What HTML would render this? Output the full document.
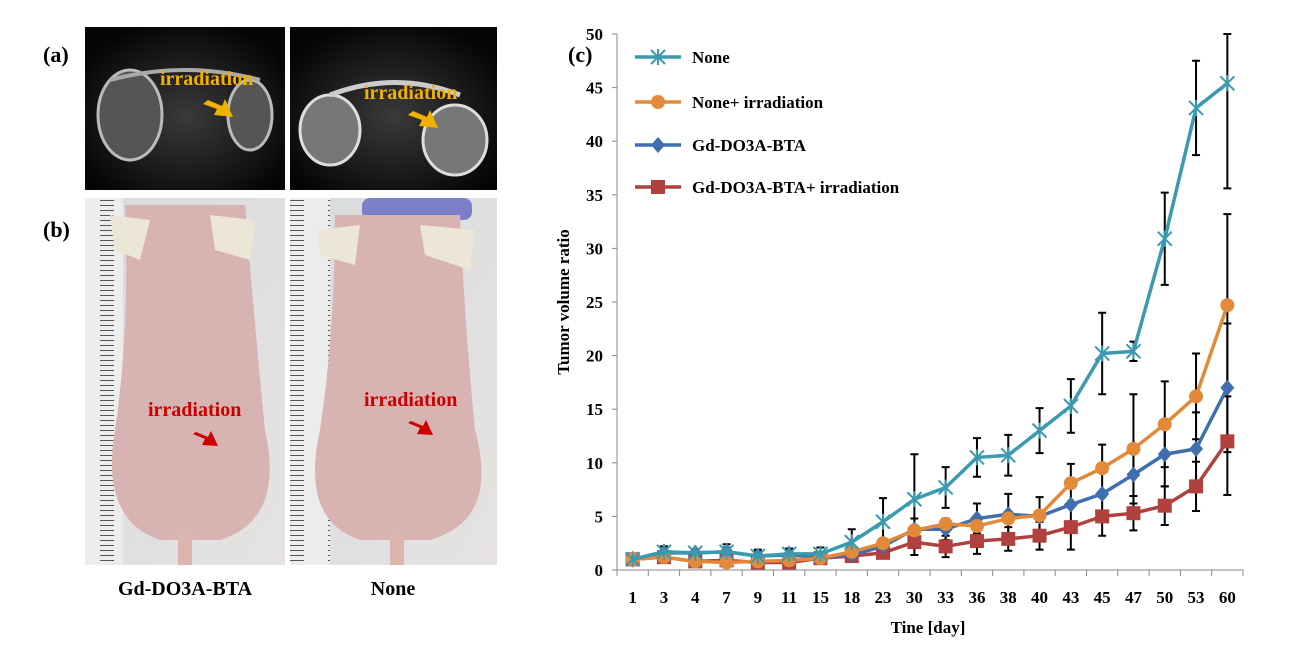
<!DOCTYPE html>
<html><head><meta charset="utf-8"><style>
body{margin:0;background:#fff;width:1293px;height:667px;overflow:hidden;font-family:"Liberation Serif",serif}
svg{position:absolute;left:0;top:0}
</style></head><body>
<svg width="1293" height="667" xmlns="http://www.w3.org/2000/svg" id="fig">
<defs>
<radialGradient id="mri" cx="50%" cy="55%" r="60%"><stop offset="0" stop-color="#3a3a3a"/><stop offset="1" stop-color="#050505"/></radialGradient>
<linearGradient id="bg" x1="0" y1="0" x2="1" y2="1"><stop offset="0" stop-color="#d8dcdc"/><stop offset="1" stop-color="#e6e2e2"/></linearGradient>
<pattern id="ruler" width="38" height="5" patternUnits="userSpaceOnUse"><rect width="38" height="5" fill="#ececec"/><line x1="24" y1="0.5" x2="38" y2="0.5" stroke="#555" stroke-width="1"/></pattern>
</defs>
<g>
<text x="43" y="62" font-size="22" font-weight="bold">(a)</text>
<rect x="85" y="27" width="200" height="163" fill="url(#mri)"/>
<ellipse cx="130" cy="115" rx="32" ry="45" fill="#555" stroke="#bbb" stroke-width="3"/>
<ellipse cx="250" cy="115" rx="22" ry="35" fill="#555" stroke="#bbb" stroke-width="3"/>
<path d="M110 80 Q185 60 260 80" stroke="#aaa" stroke-width="4" fill="none"/>
<rect x="290" y="27" width="207" height="163" fill="url(#mri)"/>
<ellipse cx="330" cy="130" rx="30" ry="35" fill="#777" stroke="#ddd" stroke-width="3"/>
<ellipse cx="455" cy="140" rx="32" ry="35" fill="#777" stroke="#ddd" stroke-width="3"/>
<path d="M330 95 Q395 70 460 95" stroke="#ccc" stroke-width="5" fill="none"/>
<text x="160" y="85" font-size="20" font-weight="bold" fill="#f2b000">irradiation</text>
<text x="364" y="99" font-size="20" font-weight="bold" fill="#f2b000">irradiation</text>
<path d="M208 100 l14 6 l3 -7 l8 18 l-19 -2 l3 -6 l-14 -5z" fill="#f2b000"/>
<path d="M413 111 l14 6 l3 -7 l8 18 l-19 -2 l3 -6 l-14 -5z" fill="#f2b000"/>
</g>
<g>
<text x="43" y="237" font-size="22" font-weight="bold">(b)</text>
<rect x="85" y="198" width="200" height="367" fill="url(#bg)"/>
<rect x="85" y="198" width="38" height="367" fill="url(#ruler)"/>
<path d="M125 205 L245 205 Q255 330 265 430 Q285 520 220 540 L160 540 Q100 520 115 430 Q130 330 125 205Z" fill="#d7b3b1"/>
<rect x="178" y="530" width="14" height="35" fill="#dcb5ae"/>
<path d="M110 215 L150 220 L140 260 L115 250Z M210 215 L255 220 L250 260 L215 250Z" fill="#ece6d6"/>
<rect x="290" y="198" width="207" height="367" fill="url(#bg)"/>
<rect x="290" y="198" width="40" height="367" fill="url(#ruler)"/>
<rect x="362" y="198" width="110" height="22" rx="8" fill="#7a7fc8"/>
<path d="M335 215 L460 215 Q465 330 475 430 Q500 520 430 540 L360 540 Q300 520 320 430 Q335 330 335 215Z" fill="#d7b3b1"/>
<rect x="390" y="530" width="14" height="35" fill="#dcb5ae"/>
<path d="M318 230 L360 225 L355 265 L320 255Z M420 225 L475 230 L470 270 L425 255Z" fill="#ece6d6"/>
<text x="148" y="416" font-size="20" font-weight="bold" fill="#cc0000">irradiation</text>
<text x="364" y="406" font-size="20" font-weight="bold" fill="#cc0000">irradiation</text>
<path d="M196 432 l12 5 l3 -6 l7 15 l-16 -1 l3 -6 l-12 -5z" fill="#cc0000"/>
<path d="M411 421 l12 5 l3 -6 l7 15 l-16 -1 l3 -6 l-12 -5z" fill="#cc0000"/>
<text x="185" y="595" font-size="20" font-weight="bold" text-anchor="middle">Gd-DO3A-BTA</text>
<text x="393" y="595" font-size="20" font-weight="bold" text-anchor="middle">None</text>
</g>
<text x="568" y="62" font-size="22" font-weight="bold">(c)</text>
<g id="chart"></g>
</svg>
<script>
const categories=["1","3","4","7","9","11","15","18","23","30","33","36","38","40","43","45","47","50","53","60"];
const yTicks=[0,5,10,15,20,25,30,35,40,45,50];
const seriesNames=["None","None+ irradiation","Gd-DO3A-BTA","Gd-DO3A-BTA+ irradiation"];
const noneVals=[1,1.7,1.6,1.7,1.3,1.5,1.5,2.6,4.5,6.6,7.7,10.5,10.7,13,15.3,20.2,20.4,30.9,43.1,45.4];
const noneErr=[0,0.5,0,0.7,0.6,0.5,0.6,1.2,2.2,4.2,1.9,1.8,1.9,2.1,2.5,3.8,0.9,4.3,4.4,9.8];
const noneIrrVals=[1,1.2,0.8,0.7,0.8,0.9,1.1,1.7,2.5,3.7,4.3,4.1,4.8,5.1,8.1,9.5,11.3,13.6,16.2,24.7];
const noneIrrErr=[0,0,0,0,0,0,0,0,0,0,0,0,0,0,1.8,2.2,5.1,4.0,4.0,8.5];
const gdVals=[1,1.6,1.6,1.7,1.3,1.4,1.2,1.4,2.2,3.8,3.8,4.8,5.2,5.0,6.1,7.1,8.9,10.8,11.3,17];
const gdErr=[0,0.3,0,0.4,0.4,0.4,0.4,0,0,1.0,1.0,1.4,1.9,1.8,0,0,2.0,3.0,3.4,6.0];
const gdIrrVals=[1,1.2,0.8,0.9,0.7,0.7,1.1,1.3,1.6,2.6,2.2,2.7,2.9,3.2,4.0,5.0,5.3,6.0,7.8,12];
const gdIrrErr=[0,0,0,0,0,0,0,0,0,1.2,1.0,1.2,1.1,1.3,2.1,1.8,1.6,1.8,2.3,5.0];
const NS="http://www.w3.org/2000/svg";
const g=document.getElementById('chart');
const X0=617,X1=1243,Y0=570,Y1=34,YMAX=50;
const bw=(X1-X0)/categories.length;
function xs(i){return X0+bw*(i+0.5);}
function ys(v){return Y0-(v/YMAX)*(Y0-Y1);}
function el(t,a){const e=document.createElementNS(NS,t);for(const k in a)e.setAttribute(k,a[k]);g.appendChild(e);return e;}
let e;
e=el('line',{x1:X0,y1:Y1,x2:X0,y2:Y0,stroke:'#888','stroke-width':1});


e=el('line',{x1:X0,y1:Y0,x2:X1,y2:Y0,stroke:'#888','stroke-width':1});


yTicks.forEach(v=>{
  el('line',{x1:X0-5,y1:ys(v),x2:X0,y2:ys(v),stroke:'#888'});
  e=el('text',{x:X0-14,y:ys(v)+6,'font-size':17,'font-weight':'bold','text-anchor':'end','font-family':'Liberation Serif'});
  e.textContent=v;
  
  
});
for(let i=0;i<=categories.length;i++)el('line',{x1:X0+bw*i,y1:Y0,x2:X0+bw*i,y2:Y0+6,stroke:'#888'});
categories.forEach((c,i)=>{
  e=el('text',{x:xs(i),y:603,'font-size':17,'font-weight':'bold','text-anchor':'middle','font-family':'Liberation Serif'});
  e.textContent=c;
  
  
});
e=el('text',{x:928,y:633,'font-size':17,'font-weight':'bold','text-anchor':'middle','font-family':'Liberation Serif'});
e.textContent='Tine [day]';


e=el('text',{x:0,y:0,'font-size':17,'font-weight':'bold','text-anchor':'middle','font-family':'Liberation Serif',transform:'translate(569,302) rotate(-90)'});
e.textContent='Tumor volume ratio';


const series=[[noneVals,noneErr,'#3a9ab0','x'],[noneIrrVals,noneIrrErr,'#e38a3a','o'],[gdVals,gdErr,'#3f6fae','d'],[gdIrrVals,gdIrrErr,'#b0413e','s']];
function marker(type,x,y,c){
  let m;
  if(type==='x'){m=el('path',{d:`M${x-7} ${y-7}L${x+7} ${y+7}M${x-7} ${y+7}L${x+7} ${y-7}M${x} ${y-8}L${x} ${y+8}`,stroke:c,'stroke-width':2,fill:'none'});}
  else if(type==='o'){m=el('circle',{cx:x,cy:y,r:7,fill:c});}
  else if(type==='d'){m=el('path',{d:`M${x} ${y-8}L${x+7} ${y}L${x} ${y+8}L${x-7} ${y}Z`,fill:c});}
  else {m=el('rect',{x:x-7,y:y-7,width:14,height:14,fill:c});}
  return m;
}
series.forEach((s,si)=>{
  s[0].forEach((v,i)=>{
    const er=s[1][i]; if(!er)return;
    const top=Math.max(ys(v+er),Y1),bot=ys(v-er),x=xs(i);
    e=el('path',{d:`M${x} ${top}L${x} ${bot}M${x-4} ${top}L${x+4} ${top}M${x-4} ${bot}L${x+4} ${bot}`,stroke:'#000','stroke-width':2,fill:'none'});
    
    
  });
});
[3,2,1,0].forEach(si=>{
  const s=series[si];
  e=el('polyline',{points:s[0].map((v,i)=>xs(i)+','+ys(v)).join(' '),stroke:s[2],'stroke-width':3.5,fill:'none'});
  
  
  s[0].forEach((v,i)=>{
    const m=marker(s[3],xs(i),ys(v),s[2]);
    
    
  });
});
const ly=[57,102,145,187];
series.forEach((s,si)=>{
  e=el('line',{x1:635,y1:ly[si],x2:681,y2:ly[si],stroke:s[2],'stroke-width':3.5});
  
  
  marker(s[3],658,ly[si],s[2]);
  e=el('text',{x:692,y:ly[si]+6,'font-size':17,'font-weight':'bold','font-family':'Liberation Serif'});
  e.textContent=seriesNames[si];
  
  
});
</script>
</body></html>
